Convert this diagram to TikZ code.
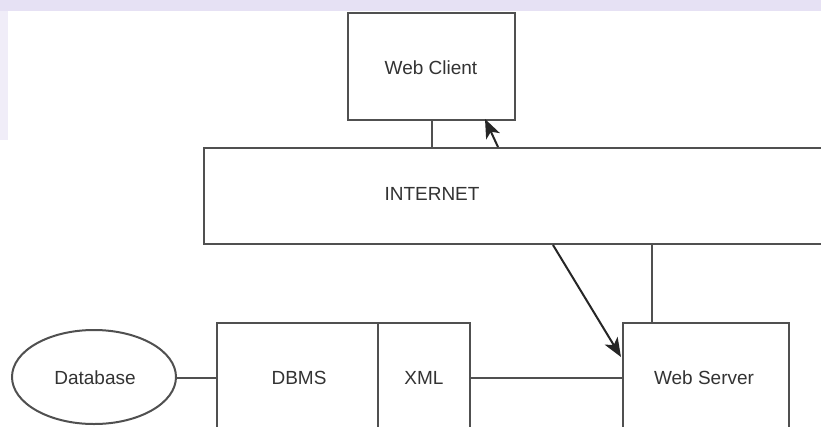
\documentclass[tikz,border=0pt]{standalone}
\usepackage{fontspec}
\setmainfont{Liberation Sans}
\usetikzlibrary{arrows.meta,shapes.geometric}
\definecolor{linec}{HTML}{505050}
\definecolor{txtc}{HTML}{333333}
\definecolor{lav}{RGB}{230,225,244}
\tikzset{
  box/.style={draw=linec, line width=2pt, fill=white, inner sep=0pt},
  lbl/.style={text=txtc, font=\fontsize{19}{23}\selectfont, inner sep=0pt},
  conn/.style={draw=linec, line width=2pt},
  arr/.style={draw=black!85, line width=2pt, -{Stealth[length=19pt,width=15pt,inset=5pt]}}
}
\begin{document}
\begin{tikzpicture}[x=1pt,y=-1pt]
\useasboundingbox (0,0) rectangle (821,426);
\clip (0,0) rectangle (821,426);
\fill[white] (0,0) rectangle (821,426);
\fill[lav] (0,0) rectangle (821,11);
\fill[lav!60] (0,11) rectangle (8,140);
% boxes
\node[box, minimum width=167pt, minimum height=107pt] (wc) at (431.5,66.5) {};
\node[box, minimum width=646pt, minimum height=96pt] (inet) at (527,196) {};
\node[box, ellipse, minimum width=164pt, minimum height=94pt] (db) at (94,377) {};
\node[box, minimum width=161pt, minimum height=137pt] (dbms) at (297.5,391.5) {};
\node[box, minimum width=92pt, minimum height=137pt] (xml) at (424,391.5) {};
\node[box, minimum width=166pt, minimum height=137pt] (ws) at (706,391.5) {};
% labels
\node[lbl] (twc) at (431,68) {Web Client};
\node[lbl] (tinet) at (432,194) {INTERNET};
\node[lbl] (tdb) at (95,378) {Database};
\node[lbl] (tdbms) at (299,378) {DBMS};
\node[lbl] (txml) at (424,378) {XML};
\node[lbl] (tws) at (704,378) {Web Server};
% helper coordinates
\coordinate (a1) at (498,0);
\coordinate (a2) at (485,0);
\coordinate (b1) at (553,0);
\coordinate (b2) at (0,357);
\coordinate (c1) at (652,0);
\coordinate (row) at (0,378);
% connectors
\draw[conn] (wc.south) -- (wc.south |- inet.north);
\draw[arr] (inet.north -| a1) -- ([yshift=2pt]wc.south -| a2);
\draw[arr] (inet.south -| b1) -- ([xshift=-1pt]ws.west |- b2);
\draw[conn] (ws.north -| c1) -- (inet.south -| c1);
\draw[conn] (db.east |- row) -- (dbms.west |- row);
\draw[conn] (xml.east |- row) -- (ws.west |- row);
\end{tikzpicture}
\end{document}
